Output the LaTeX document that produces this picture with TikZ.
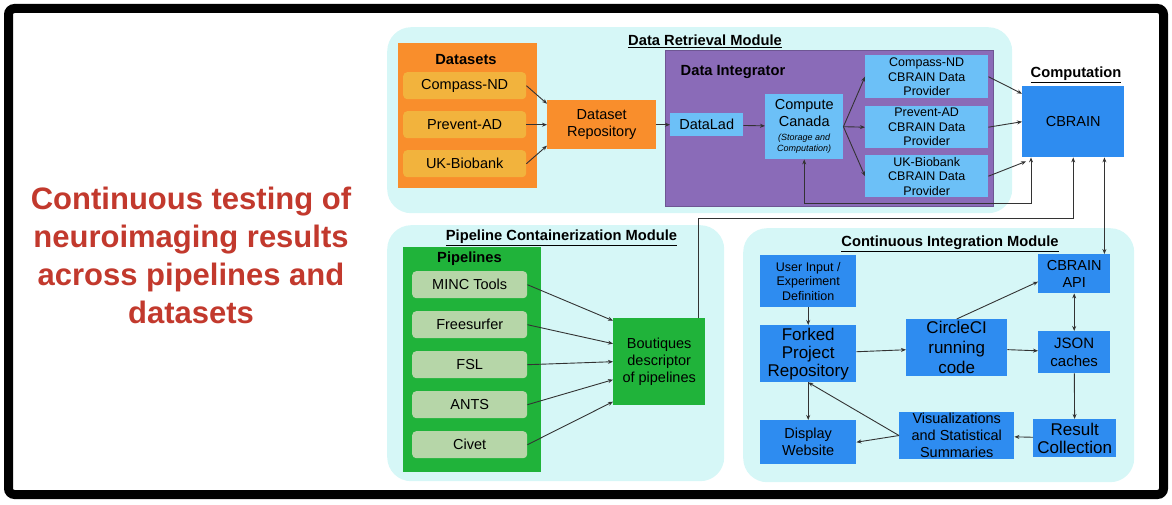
\documentclass[tikz,border=0pt]{standalone}
\usepackage{fontspec}
\setmainfont{Liberation Sans}
\usetikzlibrary{arrows.meta, positioning}
\definecolor{modbg}{HTML}{D6F7F7}
\definecolor{dsorange}{HTML}{F98E2C}
\definecolor{dsitem}{HTML}{F2B33D}
\definecolor{intpurple}{HTML}{8A6BB8}
\definecolor{lightblue}{HTML}{6CC0F7}
\definecolor{cbblue}{HTML}{2E8CF0}
\definecolor{pipegreen}{HTML}{20B33A}
\definecolor{pipeitem}{HTML}{B6D6A8}
\definecolor{titlered}{HTML}{C2392D}
\newcommand{\smallit}[1]{{\fontsize{9}{10.5}\selectfont\itshape #1}}

\begin{document}
\begin{tikzpicture}[
    x=1pt, y=-1pt,
    font=\fontsize{14.5}{17}\selectfont,
    wh/.style 2 args={minimum width=#1pt, minimum height=#2pt},
    px/.style={anchor=north west, inner sep=1pt, align=center},
    module/.style={px, fill=modbg, rounded corners=24pt},
    modtitle/.style={font=\fontsize{14.7}{17}\selectfont\bfseries},
    grouptitle/.style={font=\fontsize{14.7}{17}\selectfont\bfseries},
    dsgroup/.style={px, fill=dsorange},
    dsbox/.style={px, fill=dsitem, rounded corners=4pt},
    pipegroup/.style={px, fill=pipegreen},
    pipebox/.style={px, fill=pipeitem, rounded corners=4pt},
    intbox/.style={px, fill=lightblue},
    cibox/.style={px, fill=cbblue},
    smalltxt/.style={font=\fontsize{12.5}{14.5}\selectfont},
    bigtxt/.style={font=\fontsize{17}{18}\selectfont},
    ar/.style={-{Stealth[length=5pt, width=4pt]}, draw=black!80, line width=0.9pt},
    dar/.style={{Stealth[length=5pt, width=4pt]}-{Stealth[length=5pt, width=4pt]}, draw=black!80, line width=0.9pt}
  ]
    \useasboundingbox (0,0) rectangle (1172,505);
    \draw[line width=9pt, rounded corners=6pt] (8.5,8.5) rectangle (1163.5,494.5);

    \node[align=center, text=titlered, font=\fontsize{31}{38}\selectfont\bfseries] (ttl) at (191,255)
      {Continuous testing of\\neuroimaging results\\across pipelines and\\datasets};

    % modules
    \node[module, wh={625}{186}] (drm) at (387,27) {};
    \node[module, wh={337}{256}] (pcm) at (387,225) {};
    \node[module, wh={391}{254}] (cim) at (743,228) {};
    \node[modtitle] (drmt) at (705,41) {\underline{Data Retrieval Module}};
    \node[modtitle] (pcmt) at (561.5,238) {\underline{Pipeline Containerization Module}};
    \node[modtitle] (cimt) at (950,244) {\underline{Continuous Integration Module}};
    \node[modtitle] (compt) at (1076,75) {\underline{Computation}};

    % data retrieval
    \node[dsgroup, wh={139}{145}] (dsets) at (398,43) {};
    \node[grouptitle] (dsetst) at (466,60) {Datasets};
    \node[dsbox, wh={123}{27}] (ds1) at (403,72) {Compass-ND};
    \node[dsbox, wh={123}{27}] (ds2) at (403,111) {Prevent-AD};
    \node[dsbox, wh={123}{27}] (ds3) at (403,150) {UK-Biobank};
    \node[dsgroup, wh={109}{49}] (repo) at (547,100) {Dataset\\Repository};
    \node[px, fill=intpurple, draw=intpurple!80!black, wh={328}{156}] (integ) at (665,50) {};
    \node[grouptitle] (integt) at (733,72) {Data Integrator};
    \node[intbox, wh={73}{23}] (lad) at (670,113) {DataLad};
    \node[intbox, wh={78}{65}] (cc) at (765,94) {Compute\\Canada\\[-3pt]\smallit{(Storage and}\\[-6pt]\smallit{Computation)}};
    \node[intbox, smalltxt, wh={123}{43}] (prov1) at (865,55) {Compass-ND\\CBRAIN Data\\Provider};
    \node[intbox, smalltxt, wh={123}{42}] (prov2) at (865,106) {Prevent-AD\\CBRAIN Data\\Provider};
    \node[intbox, smalltxt, wh={123}{42}] (prov3) at (865,155) {UK-Biobank\\CBRAIN Data\\Provider};
    \node[cibox, wh={102}{71}] (cbrain) at (1022,86) {CBRAIN};

    % pipelines
    \node[pipegroup, wh={138}{225}] (pipes) at (403,247) {};
    \node[grouptitle] (pipest) at (469.5,259) {Pipelines};
    \node[pipebox, wh={115}{27}] (pl1) at (412,271) {MINC Tools};
    \node[pipebox, wh={115}{27}] (pl2) at (412,311) {Freesurfer};
    \node[pipebox, wh={115}{27}] (pl3) at (412,351) {FSL};
    \node[pipebox, wh={115}{27}] (pl4) at (412,391) {ANTS};
    \node[pipebox, wh={115}{27}] (pl5) at (412,431) {Civet};
    \node[pipegroup, wh={92}{87}] (bout) at (613,318) {Boutiques\\descriptor\\of pipelines};

    % continuous integration
    \node[cibox, smalltxt, wh={96}{52}] (user) at (760,255) {User Input /\\Experiment\\Definition};
    \node[cibox, bigtxt, wh={96}{57}] (fork) at (760,325) {Forked\\Project\\Repository};
    \node[cibox, wh={96}{44}] (disp) at (760,420) {Display\\Website};
    \node[cibox, font=\fontsize{17}{20}\selectfont, wh={101}{57}] (circ) at (906,319) {CircleCI\\running\\code};
    \node[cibox, wh={115}{45}] (vis) at (899,412) {Visualizations\\and Statistical\\Summaries};
    \node[cibox, wh={72}{39}] (api) at (1038,254) {CBRAIN\\API};
    \node[cibox, font=\fontsize{15}{18}\selectfont, wh={72}{42}] (json) at (1038,331) {JSON\\caches};
    \node[cibox, bigtxt, wh={83}{38}] (res) at (1033,419) {Result\\Collection};

    % data flow
    \draw[ar] (ds1.east) -- ([yshift=21pt]repo.west);
    \draw[ar] (ds2.east) -- (repo.west);
    \draw[ar] (ds3.east) -- ([yshift=-21pt]repo.west);
    \draw[ar] (repo) -- (lad);
    \draw[ar] (lad) -- (cc);
    \draw[ar] (cc.east) -- (prov1.west);
    \draw[ar] (cc.east) -- (prov2.west);
    \draw[ar] (cc.east) -- (prov3.west);
    \draw[ar] (prov1.east) -- ([yshift=28pt]cbrain.west);
    \draw[ar] (prov2.east) -- (cbrain.west);
    \draw[ar] (prov3.east) -- ([xshift=4pt,yshift=-4pt]cbrain.south west);
    \draw[dar] (cc.south) -- ++(0,44) -| ([xshift=9pt]cbrain.south west);
    \draw[ar] ([xshift=-7pt]bout.north east) -- ++(0,-100) -| (cbrain.south);
    \draw[dar] ([xshift=-20pt]cbrain.south east) -- ([xshift=-20pt]cbrain.south east |- api.north);

    \draw[ar] (pl1.east) -- ([yshift=41pt]bout.west);
    \draw[ar] (pl2.east) -- ([yshift=18pt]bout.west);
    \draw[ar] (pl3.east) -- (bout.west);
    \draw[ar] (pl4.east) -- ([yshift=-18pt]bout.west);
    \draw[ar] (pl5.east) -- ([yshift=-40pt]bout.west);

    \draw[ar] (user) -- (fork);
    \draw[ar] (fork) -- (circ);
    \draw[ar] (circ.north) -- ([yshift=-8pt]api.west);
    \draw[ar] (circ) -- (json);
    \draw[dar] (api) -- (json);
    \draw[ar] (json) -- (res);
    \draw[ar] (res) -- (vis);
    \draw[ar] (vis.west) -- (disp.east);
    \draw[ar] (vis.west) -- (fork.south);
    \draw[ar] (fork) -- (disp);
  \end{tikzpicture}
\end{document}
